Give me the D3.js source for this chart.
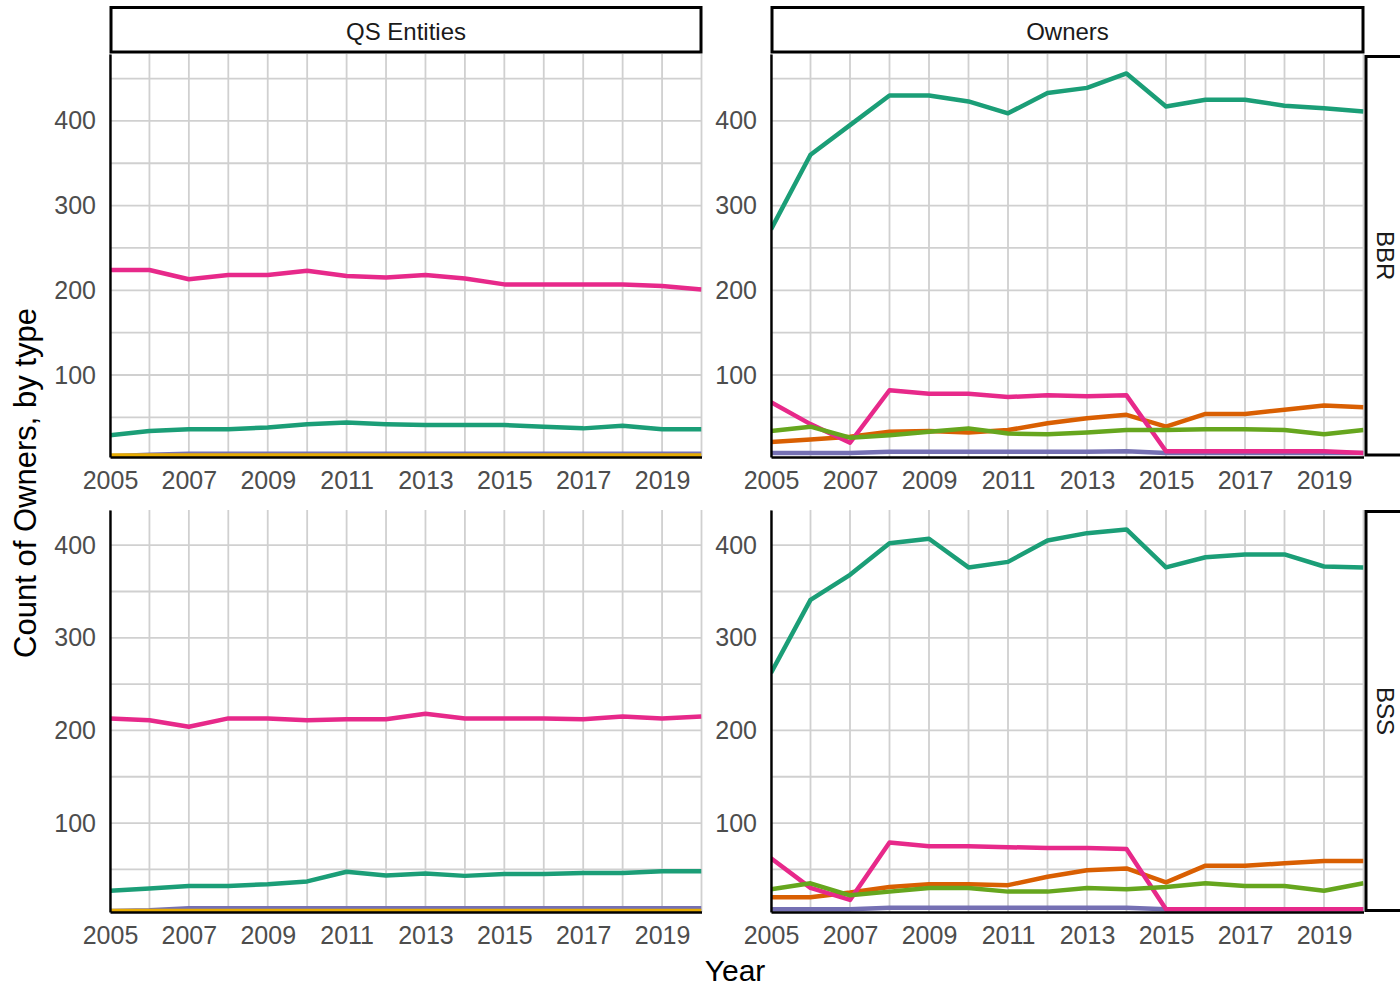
<!DOCTYPE html>
<html>
<head>
<meta charset="utf-8">
<script src="https://cdn.jsdelivr.net/npm/d3@7"></script>
<style>
  body { margin: 0; background: #fff; }
  svg { font-family: "Liberation Sans", Arial, sans-serif; }
</style>
</head>
<body>
<svg id="chart" width="1400" height="986"></svg>
<script>
// years on the x axis
var years = [2005, 2006, 2007, 2008, 2009, 2010, 2011, 2012, 2013, 2014, 2015, 2016, 2017, 2018, 2019, 2020];
var xTicks = [2005, 2007, 2009, 2011, 2013, 2015, 2017, 2019];
var yTicks = [100, 200, 300, 400];

// QS Entities / BBR
var qsBbrTeal   = [29, 34, 36, 36, 38, 42, 44, 42, 41, 41, 41, 39, 37, 40, 36, 36];
var qsBbrPurple = [4, 6, 7, 7, 7, 7, 7, 7, 7, 7, 7, 7, 7, 7, 7, 7];
var qsBbrPink   = [224, 224, 213, 218, 218, 223, 217, 215, 218, 214, 207, 207, 207, 207, 205, 201];
var qsBbrGold   = [5, 5, 5, 5, 5, 5, 5, 5, 5, 5, 5, 5, 5, 5, 5, 5];

// Owners / BBR
var owBbrTeal   = [272, 360, 395, 430, 430, 423, 409, 433, 439, 456, 417, 425, 425, 418, 415, 411];
var owBbrOrange = [21, 24, 27, 33, 34, 32, 35, 43, 49, 53, 39, 54, 54, 59, 64, 62];
var owBbrPurple = [8, 8, 8, 9.5, 9.5, 9.5, 9.5, 9.5, 9.5, 10, 8, 8, 8, 8, 8, 8];
var owBbrPink   = [68, 42, 20, 82, 78, 78, 74, 76, 75, 76, 10, 10, 10, 10, 10, 8];
var owBbrGreen  = [34, 39, 26, 29, 33, 37, 31, 30, 32, 35, 35, 36, 36, 35, 30, 35];

// QS Entities / BSS
var qsBssTeal   = [27, 29.5, 32, 32, 34, 37, 47.5, 43.5, 45.5, 43, 45, 45, 46, 46, 48, 48];
var qsBssPurple = [5, 6, 8, 8, 8, 8, 8, 8, 8, 8, 8, 8, 8, 8, 8, 8];
var qsBssPink   = [213, 211, 204, 213, 213, 211, 212, 212, 218, 213, 213, 213, 212, 215, 213, 215];
var qsBssGold   = [5, 5, 5, 5, 5, 5, 5, 5, 5, 5, 5, 5, 5, 5, 5, 5];

// Owners / BSS
var owBssTeal   = [262, 341, 368, 402, 407, 376, 382, 405, 413, 417, 376, 387, 390, 390, 377, 376];
var owBssOrange = [20, 20, 25, 31, 34, 34, 33, 42, 49, 51, 36, 54, 54, 56.5, 59, 59];
var owBssPurple = [7, 7, 7, 8.6, 8.6, 8.6, 8.6, 8.6, 8.6, 8.6, 7, 7, 7, 7, 7, 7];
var owBssPink   = [62, 30, 17, 79, 75, 75, 74, 73, 73, 72, 7, 7, 7, 7, 7, 7];
var owBssGreen  = [28.5, 35, 22, 26, 30, 30, 26, 26, 30, 28.5, 31, 35, 32, 32, 27, 35];

var colTeal = "#1B9E77", colOrange = "#D95F02", colPurple = "#7570B3",
    colPink = "#E7298A", colGreen = "#66A61E", colGold = "#E6AB02";

var svg = d3.select("#chart");

function panel(id, x0, x1, y0, y1, yDomain, series) {
  var x = d3.scaleLinear().domain([2005, 2020]).range([x0, x1]);
  var y = d3.scaleLinear().domain(yDomain).range([y1, y0]);
  var g = svg.append("g");

  g.append("clipPath").attr("id", id)
    .append("rect").attr("x", x0).attr("y", y0).attr("width", x1 - x0).attr("height", y1 - y0);

  // vertical grid, one line per year
  g.selectAll(".vg").data(years).enter().append("line")
    .attr("x1", d => x(d)).attr("x2", d => x(d))
    .attr("y1", y0).attr("y2", y1)
    .attr("stroke", "#d0d0d0").attr("stroke-width", 1.8);

  // horizontal grid, minor every 50
  var hv = [50, 100, 150, 200, 250, 300, 350, 400, 450].filter(v => v > yDomain[0] && v < yDomain[1]);
  g.selectAll(".hg").data(hv).enter().append("line")
    .attr("x1", x0).attr("x2", x1)
    .attr("y1", d => y(d)).attr("y2", d => y(d))
    .attr("stroke", "#d0d0d0").attr("stroke-width", 1.8);

  var line = d3.line().x((d, i) => x(years[i])).y(d => y(d));
  var lg = g.append("g").attr("clip-path", "url(#" + id + ")");
  series.forEach(function (s) {
    lg.append("path").datum(s.values)
      .attr("d", line)
      .attr("fill", "none")
      .attr("stroke", s.color)
      .attr("stroke-width", 4.5)
      .attr("stroke-linejoin", "round");
  });

  // axes
  var ya = g.append("g").attr("transform", "translate(" + x0 + ",0)")
    .call(d3.axisLeft(y).tickValues(yTicks).tickSize(0).tickPadding(14));
  ya.select(".domain").attr("stroke", "#000").attr("stroke-width", 2.4);
  ya.selectAll("text").attr("font-size", 25).attr("fill", "#4D4D4D")
    .attr("font-family", "Liberation Sans, Arial, sans-serif");

  var xa = g.append("g").attr("transform", "translate(0," + y1 + ")")
    .call(d3.axisBottom(x).tickValues(xTicks).tickFormat(d3.format("d")).tickSize(0).tickPadding(14));
  xa.select(".domain").attr("stroke", "#000").attr("stroke-width", 2.4);
  xa.selectAll("text").attr("font-size", 25).attr("fill", "#4D4D4D")
    .attr("font-family", "Liberation Sans, Arial, sans-serif");
}

var topDomain = [3.2, 479];
var botDomain = [4, 438];

panel("c1", 110, 701.5, 54, 457, topDomain, [
  {values: qsBbrTeal, color: colTeal},
  {values: qsBbrPurple, color: colPurple},
  {values: qsBbrPink, color: colPink},
  {values: qsBbrGold, color: colGold}
]);
panel("c2", 771, 1363.5, 54, 457, topDomain, [
  {values: owBbrTeal, color: colTeal},
  {values: owBbrOrange, color: colOrange},
  {values: owBbrPurple, color: colPurple},
  {values: owBbrPink, color: colPink},
  {values: owBbrGreen, color: colGreen}
]);
panel("c3", 110, 701.5, 510, 912, botDomain, [
  {values: qsBssTeal, color: colTeal},
  {values: qsBssPurple, color: colPurple},
  {values: qsBssPink, color: colPink},
  {values: qsBssGold, color: colGold}
]);
panel("c4", 771, 1363.5, 510, 912, botDomain, [
  {values: owBssTeal, color: colTeal},
  {values: owBssOrange, color: colOrange},
  {values: owBssPurple, color: colPurple},
  {values: owBssPink, color: colPink},
  {values: owBssGreen, color: colGreen}
]);

// top strips
var topStrips = [{label: "QS Entities", x: 111, w: 590}, {label: "Owners", x: 772, w: 591}];
topStrips.forEach(function (s) {
  svg.append("rect").attr("x", s.x).attr("y", 7.5).attr("width", s.w).attr("height", 44.5)
    .attr("fill", "#fff").attr("stroke", "#000").attr("stroke-width", 3);
  svg.append("text").attr("x", s.x + s.w / 2).attr("y", 31).attr("text-anchor", "middle")
    .attr("dominant-baseline", "central").attr("font-size", 24).attr("fill", "#1a1a1a").text(s.label);
});

// right strips
var rightStrips = [{label: "BBR", y: 56.5, h: 398.5}, {label: "BSS", y: 511.5, h: 399}];
rightStrips.forEach(function (s) {
  svg.append("rect").attr("x", 1366).attr("y", s.y).attr("width", 60).attr("height", s.h)
    .attr("fill", "#fff").attr("stroke", "#000").attr("stroke-width", 3);
  svg.append("text").attr("transform", "translate(1385," + (s.y + s.h / 2) + ") rotate(90)")
    .attr("text-anchor", "middle").attr("dominant-baseline", "central")
    .attr("font-size", 24).attr("fill", "#1a1a1a").text(s.label);
});

// axis titles
svg.append("text").attr("transform", "translate(25,483) rotate(-90)")
  .attr("text-anchor", "middle").attr("dominant-baseline", "central")
  .attr("font-size", 31).attr("fill", "#000").text("Count of Owners, by type");
svg.append("text").attr("x", 735).attr("y", 970).attr("text-anchor", "middle")
  .attr("dominant-baseline", "central").attr("font-size", 30).attr("fill", "#000").text("Year");
</script>
</body>
</html>
